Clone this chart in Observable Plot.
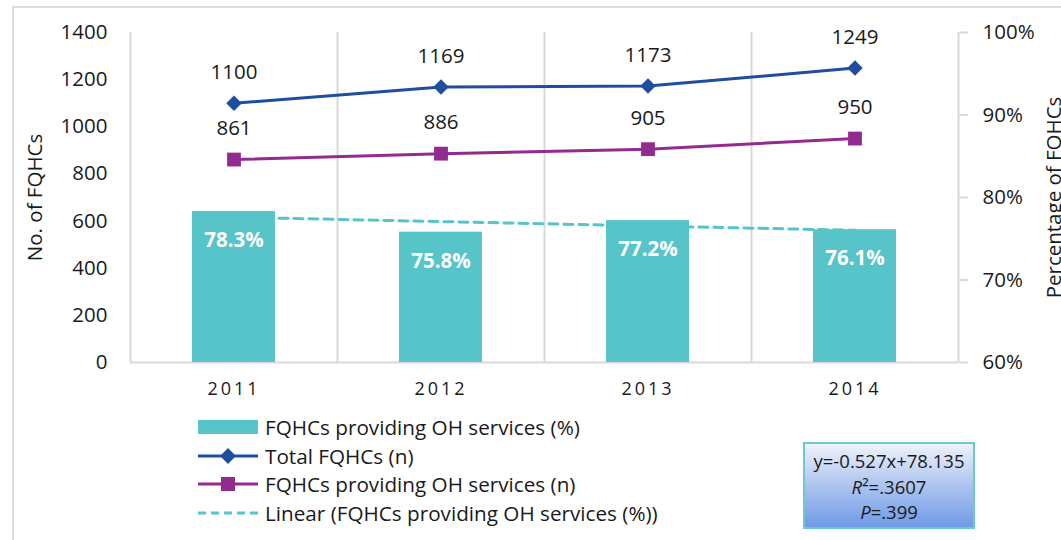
<!DOCTYPE html>
<html>
<head>
<meta charset="utf-8">
<script src="https://cdn.jsdelivr.net/npm/d3@7"></script>
<script src="https://cdn.jsdelivr.net/npm/@observablehq/plot@0.6"></script>
<style>
  html, body { margin: 0; padding: 0; background: #fff; }
  body { width: 1061px; height: 540px; overflow: hidden; font-family: "Open Sans", sans-serif; }
  #wrap { position: relative; width: 1061px; height: 540px; }
  #border { position: absolute; left: 12px; top: 6px; right: -5px; bottom: -5px; border-left: 2px solid #dcdcdc; border-top: 2px solid #dcdcdc; }
  #chart { position: absolute; left: 0; top: 0; }
  g[aria-label="x-axis tick label"] text { letter-spacing: 3px; }
  #legend { position: absolute; left: 198px; top: 413px; font-size: 20.7px; color: #1a1a1a; }
  .row { display: flex; align-items: center; height: 28.5px; }
  .row svg { margin-right: 7px; }
  #stats { position: absolute; left: 803px; top: 442px; width: 172px; height: 87px; border: 2px solid #6cc9cc;
           background: linear-gradient(#eef2fb, #b3c9f1 45%, #6f9ae6); font-size: 18.5px; color: #1a1a1a;
           text-align: center; line-height: 25.5px; padding-top: 4px; box-sizing: border-box; }
</style>
</head>
<body>
<div id="wrap">
  <div id="border"></div>
  <div id="chart"></div>
  <div id="legend"></div>
  <div id="stats">y=-0.527x+78.135<br><i>R</i>²=.3607<br><i>P</i>=.399</div>
</div>
<script>
const years = ["2011", "2012", "2013", "2014"];
const pctProviding = [78.3, 75.8, 77.2, 76.1];
const totalFQHCs = [1100, 1169, 1173, 1249];
const providingFQHCs = [861, 886, 905, 950];
const trendPct = [77.61, 77.08, 76.55, 76.03];
const leftTicks = [0, 200, 400, 600, 800, 1000, 1200, 1400];
const rightTicks = [60, 70, 80, 90, 100];

const colors = { bar: "#56c4c8", total: "#1f4e9f", prov: "#922a8f", trend: "#56c4c8", grid: "#d9d9d9", text: "#1a1a1a" };

// secondary (percentage) axis mapped onto the count scale
const pMin = 60, pMax = 100, nMax = 1400;
const pctToN = p => (p - pMin) / (pMax - pMin) * nMax;
const nToPct = n => pMin + n / nMax * (pMax - pMin);

const data = years.map((y, i) => ({
  year: y, pct: pctProviding[i], pctN: pctToN(pctProviding[i]),
  total: totalFQHCs[i], prov: providingFQHCs[i], trendN: pctToN(trendPct[i])
}));

const W = 1061, H = 400, mL = 130, mR = 103, mT = 32, mB = 38;
const step = (W - mL - mR) / years.length;

const plot = Plot.plot({
  width: W, height: H,
  marginLeft: mL, marginRight: mR, marginTop: mT, marginBottom: mB,
  style: { fontFamily: "Open Sans", fontSize: "20px", color: colors.text, background: "transparent" },
  x: { type: "band", domain: years, padding: 0, axis: null },
  y: { domain: [0, nMax], axis: null },
  marks: [
    // grid / frame lines
    Plot.ruleX(years.slice(0, 3), { x: d => d, dx: step / 2, stroke: colors.grid, strokeWidth: 2 }),
    Plot.ruleX([years[0]], { x: d => d, dx: -step / 2, stroke: colors.grid, strokeWidth: 2 }),
    Plot.ruleX([years[3]], { x: d => d, dx: step / 2, stroke: colors.grid, strokeWidth: 2 }),
    Plot.ruleY([0], { stroke: colors.grid, strokeWidth: 2 }),
    // axes
    Plot.axisY(leftTicks, { anchor: "left", tickSize: 0, tickPadding: 23, fontSize: 20.5, label: null, tickFormat: d => String(d) }),
    Plot.axisY(rightTicks.map(pctToN), { anchor: "right", tickSize: 9, tickPadding: 15, stroke: colors.grid, strokeWidth: 2, fontSize: 20.5, label: null, tickFormat: d => Math.round(nToPct(d)) + "%" }),
    Plot.axisX({ anchor: "bottom", tickSize: 0, tickPadding: 20, fontSize: 18, label: null }),
    // axis titles
    Plot.text(["No. of FQHCs"], { frameAnchor: "left", textAnchor: "middle", dx: -95, rotate: -90, fontSize: 20.5, fill: colors.text }),
    Plot.text(["Percentage of FQHCs"], { frameAnchor: "right", textAnchor: "middle", dx: 96, rotate: -90, fontSize: 20.5, fill: colors.text }),
    // trend line (under bars)
    Plot.line(data, { x: "year", y: "trendN", stroke: colors.trend, strokeWidth: 3, strokeDasharray: "9,6" }),
    // bars
    Plot.barY(data, { x: "year", y1: 0, y2: "pctN", fill: colors.bar, insetLeft: (step - 83) / 2, insetRight: (step - 83) / 2 }),
    Plot.text(data, { x: "year", y: "pctN", text: d => d.pct.toFixed(1) + "%", dy: 29, fill: "white", fontWeight: "bold", fontSize: 20.5 }),
    // lines
    Plot.line(data, { x: "year", y: "total", stroke: colors.total, strokeWidth: 3 }),
    Plot.dot(data, { x: "year", y: "total", symbol: "diamond2", r: 7, fill: colors.total, stroke: null }),
    Plot.text(data, { x: "year", y: "total", text: d => String(d.total), dy: -31, fontSize: 20.5, fill: colors.text }),
    Plot.line(data, { x: "year", y: "prov", stroke: colors.prov, strokeWidth: 3 }),
    Plot.dot(data, { x: "year", y: "prov", symbol: "square", r: 7.8, fill: colors.prov, stroke: null }),
    Plot.text(data, { x: "year", y: "prov", text: d => String(d.prov), dy: -31, fontSize: 20.5, fill: colors.text })
  ]
});
document.getElementById("chart").appendChild(plot);

// legend
const legendItems = [
  { label: "FQHCs providing OH services (%)", kind: "bar", color: colors.bar },
  { label: "Total FQHCs (n)", kind: "diamond", color: colors.total },
  { label: "FQHCs providing OH services (n)", kind: "square", color: colors.prov },
  { label: "Linear (FQHCs providing OH services (%))", kind: "dash", color: colors.trend }
];
const legend = document.getElementById("legend");
legendItems.forEach(it => {
  const row = document.createElement("div");
  row.className = "row";
  let sw = "";
  if (it.kind === "bar") sw = `<rect x="0" y="7" width="60" height="14" fill="${it.color}"/>`;
  if (it.kind === "diamond") sw = `<line x1="0" x2="60" y1="14" y2="14" stroke="${it.color}" stroke-width="3"/><path d="M30 6 L38 14 L30 22 L22 14 Z" fill="${it.color}"/>`;
  if (it.kind === "square") sw = `<line x1="0" x2="60" y1="14" y2="14" stroke="${it.color}" stroke-width="3"/><rect x="23" y="7" width="14" height="14" fill="${it.color}"/>`;
  if (it.kind === "dash") sw = `<line x1="0" x2="60" y1="14" y2="14" stroke="${it.color}" stroke-width="3" stroke-dasharray="8,5"/>`;
  row.innerHTML = `<svg width="60" height="28">${sw}</svg><span>${it.label}</span>`;
  legend.appendChild(row);
});
</script>
</body>
</html>
